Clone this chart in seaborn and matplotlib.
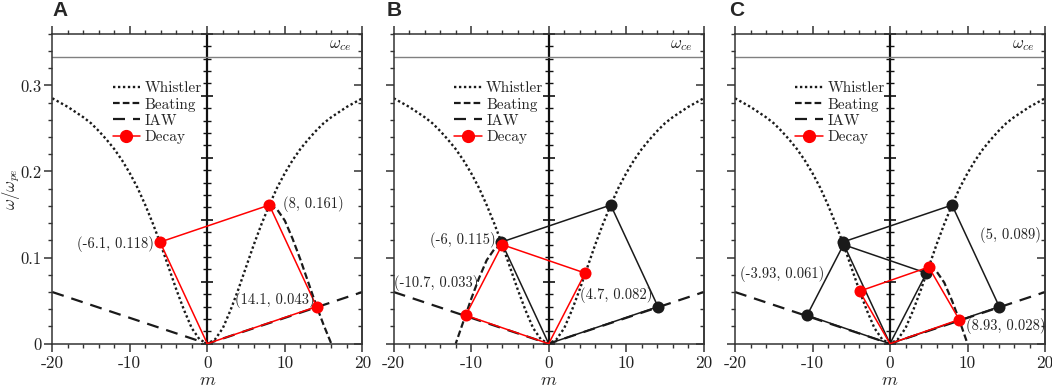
import numpy as np
import seaborn as sns
import matplotlib.pyplot as plt
from matplotlib.lines import Line2D
from matplotlib.ticker import MultipleLocator

sns.set_theme(style="ticks")
plt.rcParams['font.family'] = ['cmr10', 'DejaVu Serif']
plt.rcParams['mathtext.fontset'] = 'cm'
plt.rcParams['axes.unicode_minus'] = False
plt.rcParams['axes.formatter.use_mathtext'] = True

# whistler branch read at m = 0..20 (symmetric in m)
wh_m_pos = list(range(0, 21))
wh_w_pos = [0.000, 0.005, 0.018, 0.039, 0.063, 0.089, 0.115, 0.139, 0.161, 0.181,
            0.198, 0.213, 0.226, 0.237, 0.247, 0.256, 0.263, 0.269, 0.275, 0.280, 0.285]
wh_m = [-m for m in wh_m_pos[::-1]] + wh_m_pos[1:]
wh_w = wh_w_pos[::-1] + wh_w_pos[1:]

# ion acoustic wave
iaw_m = [-20, 0, 20]
iaw_w = [0.06, 0.0, 0.06]

# beating curves for each panel
beat_a_m = [8, 9, 10, 11, 12, 13, 14, 15, 16]
beat_a_w = [0.161, 0.156, 0.143, 0.122, 0.098, 0.072, 0.046, 0.022, 0.000]
beat_b_m = [-6, -7, -8, -9, -10, -11, -12]
beat_b_w = [0.115, 0.110, 0.097, 0.076, 0.052, 0.026, 0.000]
beat_c_m = [5, 6, 7, 8, 9, 10]
beat_c_w = [0.089, 0.084, 0.071, 0.050, 0.026, 0.000]

# decay quadrilaterals (origin -> whistler -> pump -> iaw -> origin)
dec_a_m = [0, -6.1, 8, 14.1, 0]
dec_a_w = [0, 0.118, 0.161, 0.043, 0]
dec_b_m = [0, -10.7, -6, 4.7, 0]
dec_b_w = [0, 0.033, 0.115, 0.082, 0]
dec_c_m = [0, -3.93, 5, 8.93, 0]
dec_c_w = [0, 0.061, 0.089, 0.028, 0]

w_ce = 1 / 3

labels_a = [("(8, 0.161)", 13.7, 0.162), ("(-6.1, 0.118)", -11.8, 0.116), ("(14.1, 0.043)", 8.7, 0.051)]
labels_b = [("(-6, 0.115)", -11.1, 0.121), ("(-10.7, 0.033)", -14.5, 0.071), ("(4.7, 0.082)", 8.7, 0.057)]
labels_c = [("(5, 0.089)", 15.6, 0.126), ("(-3.93, 0.061)", -13.9, 0.081), ("(8.93, 0.028)", 15.0, 0.021)]

DOT = (0, (1, 1.1))
BEAT = (0, (3.0, 1.4))
IAW = (0, (5.4, 3.6))
SPINE = '#333333'

fig = plt.figure(figsize=(10.52, 3.89), dpi=100)
lefts = [52.3 / 1052, 393.7 / 1052, 735 / 1052]
letter_x = [52 / 1052, 387 / 1052, 729 / 1052]
panels = [
    ("A", beat_a_m, beat_a_w, [(dec_a_m, dec_a_w)], [], labels_a),
    ("B", beat_b_m, beat_b_w, [(dec_b_m, dec_b_w)], [(dec_a_m, dec_a_w)], labels_b),
    ("C", beat_c_m, beat_c_w, [(dec_c_m, dec_c_w)], [(dec_a_m, dec_a_w), (dec_b_m, dec_b_w)], labels_c),
]


def curve(ax, x, y, **kw):
    sns.lineplot(x=x, y=y, ax=ax, sort=False, estimator=None, errorbar=None, **kw)


for i, (letter, bm, bw, red, black, labs) in enumerate(panels):
    ax = fig.add_axes([lefts[i], 45.3 / 389, 310 / 1052, 310 / 389])

    ax.axhline(w_ce, color='#808080', lw=1.0, zorder=1)
    ax.text(18.6, 0.346, r'$\omega_{ce}$', ha='right', va='center', fontsize=12, color='#222222')

    curve(ax, wh_m, wh_w, color='k', lw=1.7, linestyle=DOT, zorder=2)
    curve(ax, iaw_m, iaw_w, color='k', lw=1.6, linestyle=IAW, zorder=2)
    curve(ax, bm, bw, color='k', lw=1.6, linestyle=BEAT, zorder=2)

    for dm, dw in black:
        curve(ax, dm, dw, color='k', lw=1.1, zorder=3)
        sns.scatterplot(x=dm[1:4], y=dw[1:4], ax=ax, color='k', s=75, linewidth=0, zorder=4)
    for dm, dw in red:
        curve(ax, dm, dw, color='red', lw=1.1, zorder=5)
        sns.scatterplot(x=dm[1:4], y=dw[1:4], ax=ax, color='red', s=75, linewidth=0, zorder=6)

    for s, x, y in labs:
        ax.text(x, y, s, ha='center', va='center', fontsize=10.5, color='#222222', zorder=7)

    ax.set_xlim(-20, 20)
    ax.set_ylim(0, 0.36)
    ax.set_xticks([-20, -10, 0, 10, 20])
    ax.set_xticklabels(['-20', '-10', '0', '10', '20'])
    ax.xaxis.set_minor_locator(MultipleLocator(2))
    ax.set_yticks([0, 0.1, 0.2, 0.3])
    ax.yaxis.set_minor_locator(MultipleLocator(0.02))
    ax.tick_params(axis='x', which='both', top=True, direction='out', labelsize=12.5,
                   colors=SPINE, labelcolor='#222222', pad=2.5)
    ax.tick_params(axis='x', which='major', length=6, width=1.1)
    ax.tick_params(axis='x', which='minor', length=3, width=1.0)
    ax.tick_params(axis='y', which='both', direction='out', colors=SPINE, labelcolor='#222222',
                   labelsize=12, pad=1.5)
    ax.tick_params(axis='y', which='major', length=6, width=1.1)
    ax.tick_params(axis='y', which='minor', length=3, width=1.0)
    for sp in ax.spines.values():
        sp.set_color(SPINE)
        sp.set_linewidth(1.1)

    # inward ticks on the right spine
    sec = ax.secondary_yaxis('right')
    sec.set_yticks([0, 0.1, 0.2, 0.3])
    sec.yaxis.set_minor_locator(MultipleLocator(0.02))
    sec.tick_params(which='both', direction='in', labelright=False, colors=SPINE)
    sec.tick_params(which='major', length=6, width=1.1)
    sec.tick_params(which='minor', length=3, width=1.0)
    sec.spines['right'].set_color(SPINE)
    sec.spines['right'].set_linewidth(1.1)

    # centre axis at m = 0
    tw = ax.twinx()
    tw.set_ylim(0, 25)
    tw.spines['right'].set_position(('data', 0))
    tw.spines['right'].set_linewidth(1.6)
    tw.spines['right'].set_color('#111111')
    for k in ['left', 'top', 'bottom']:
        tw.spines[k].set_visible(False)
    tw.yaxis.set_major_locator(MultipleLocator(5))
    tw.yaxis.set_minor_locator(MultipleLocator(1))
    tw.tick_params(which='both', direction='inout', labelright=False, colors='#111111')
    tw.tick_params(which='major', length=9, width=1.2)
    tw.tick_params(which='minor', length=5.5, width=1.0)
    tw.set_zorder(ax.get_zorder() - 1)
    ax.patch.set_visible(False)

    if i == 0:
        ax.set_yticklabels(['0', '0.1', '0.2', '0.3'])
        ax.set_ylabel(r'$\omega/\omega_{pe}$', fontsize=12)
        ax.yaxis.set_label_coords(-0.097, 0.5)
    else:
        ax.set_yticklabels([])
    ax.set_xlabel(r'$m$', fontsize=13)
    ax.xaxis.set_label_coords(0.5, -0.095)

    handles = [
        Line2D([], [], color='k', lw=1.7, linestyle=DOT),
        Line2D([], [], color='k', lw=1.6, linestyle=BEAT),
        Line2D([], [], color='k', lw=1.6, linestyle=IAW),
        Line2D([], [], color='red', lw=1.1, marker='o', markersize=8.5),
    ]
    ax.legend(handles, ['Whistler', 'Beating', 'IAW', 'Decay'], loc='upper left',
              bbox_to_anchor=(0.175, 0.865), frameon=False, fontsize=11,
              handlelength=1.8, handletextpad=0.3, labelspacing=0.15, borderaxespad=0)

    fig.text(letter_x[i], 1 - 11 / 389, letter, fontsize=15, fontweight='bold',
             family='Liberation Sans', ha='left', va='center')

fig.savefig('out.png', dpi=100)
